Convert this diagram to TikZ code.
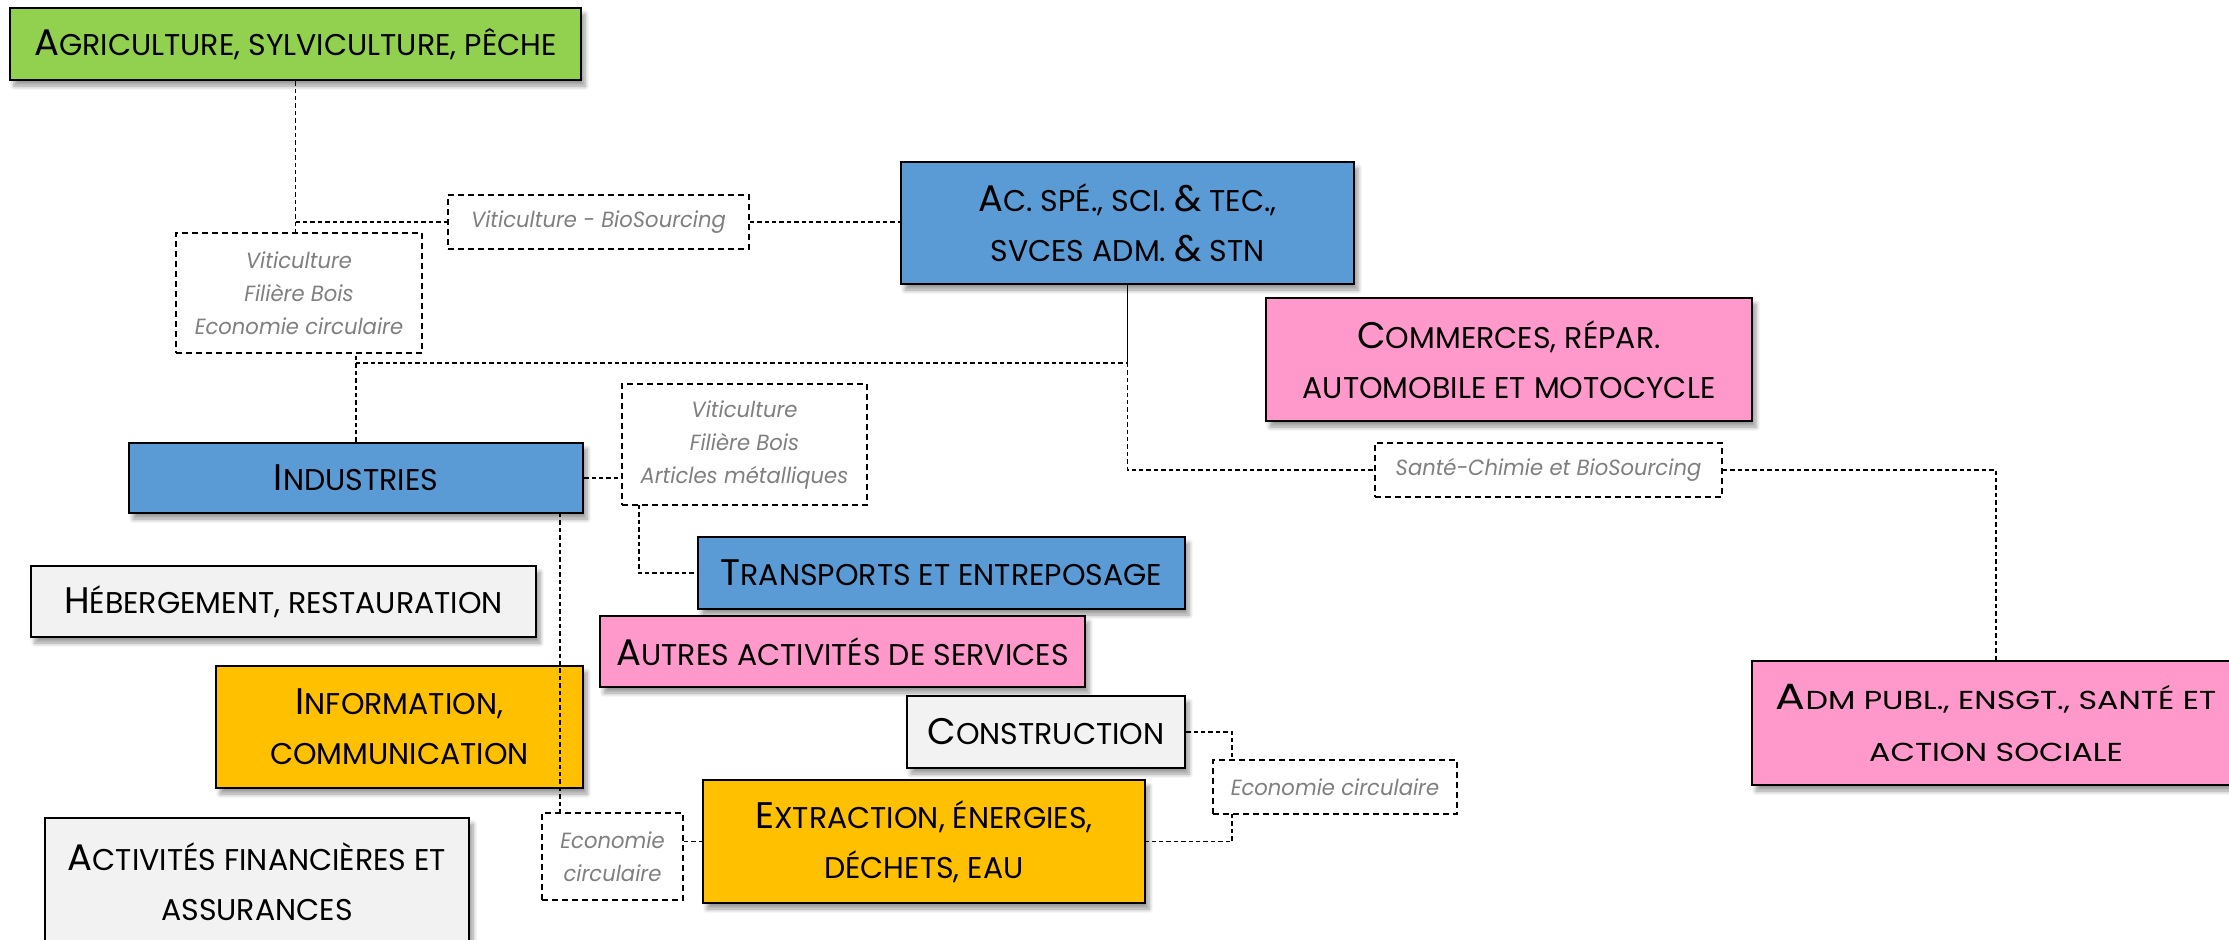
\documentclass[tikz,border=0pt]{standalone}
\usepackage{fontspec}
\setmainfont{Poppins}
\newfontfamily\cf{Poppins}
\newfontfamily\lf[FakeStretch=0.96]{Poppins}
\newfontfamily\wf[FakeStretch=1.22]{Poppins}
\usetikzlibrary{shadows.blur}
\newcommand\Bg[1]{{\fontsize{18.5}{25}\selectfont #1}}
\newcommand\Bw[1]{{\fontsize{18.2}{26}\selectfont #1}}
\definecolor{cgreen}{HTML}{92D050}
\definecolor{cblue}{HTML}{5B9BD5}
\definecolor{cpink}{HTML}{FF99CC}
\definecolor{corange}{HTML}{FFC000}
\definecolor{cgrey}{HTML}{F2F2F2}
\definecolor{lgray}{HTML}{7F7F7F}
\begin{document}
\begin{tikzpicture}[x=0.5pt,y=-0.5pt,
  cat/.style={draw=black, line width=1.2pt, inner sep=0pt, align=center,
    font=\cf\fontsize{15}{25}\selectfont, text=black,
    blur shadow={shadow xshift=2pt, shadow yshift=-3pt, shadow blur steps=6, shadow opacity=40}},
  lbl/.style={draw=black, dash pattern=on 3pt off 2pt, line width=0.8pt, fill=white,
    inner sep=0pt, align=center, text=lgray, font=\lf\itshape\fontsize{11}{16.5}\selectfont},
  con/.style={line width=0.6pt, dash pattern=on 2.2pt off 1.5pt}
]
\useasboundingbox (0,0) rectangle (2229,939);
% category boxes
\node[cat, fill=cgreen, minimum width=285.5pt, minimum height=36pt] (agri) at (295.5,44)
  {\Bg{A}GRICULTURE, SYLVICULTURE, PÊCHE};
\node[cat, fill=cblue, minimum width=226.5pt, minimum height=61pt] (acspe) at (1127.5,223)
  {\Bg{A}C. SPÉ., SCI. \Bg{\&} TEC.,\\SVCES ADM. \Bg{\&} STN};
\node[cat, fill=cpink, minimum width=243pt, minimum height=61.5pt] (comm) at (1509,359.5)
  {\Bg{C}OMMERCES, RÉPAR.\\AUTOMOBILE ET MOTOCYCLE};
\node[cat, fill=cblue, minimum width=227pt, minimum height=35pt] (ind) at (356,478)
  {\Bg{I}NDUSTRIES};
\node[cat, fill=cblue, minimum width=243.5pt, minimum height=36pt] (trans) at (941.5,573)
  {\Bg{T}RANSPORTS ET ENTREPOSAGE};
\node[cat, fill=cgrey, minimum width=252.5pt, minimum height=35.5pt] (heb) at (283.5,601.5)
  {\Bg{H}ÉBERGEMENT, RESTAURATION};
\node[cat, fill=cpink, minimum width=242.5pt, minimum height=35.5pt] (autres) at (842.5,651.5)
  {\Bg{A}UTRES ACTIVITÉS DE SERVICES};
\node[cat, fill=corange, minimum width=183.5pt, minimum height=61pt] (info) at (399.5,727)
  {\Bg{I}NFORMATION,\\COMMUNICATION};
\node[cat, fill=cgrey, minimum width=139pt, minimum height=36pt] (cons) at (1046,732)
  {\Bg{C}ONSTRUCTION};
\node[cat, fill=corange, minimum width=221pt, minimum height=61.5pt] (extr) at (924,841.5)
  {\Bg{E}XTRACTION, ÉNERGIES,\\DÉCHETS, EAU};
\node[cat, fill=cgrey, minimum width=212pt, minimum height=63.5pt] (fin) at (257,881.5)
  {\Bg{A}CTIVITÉS FINANCIÈRES ET\\ASSURANCES};
\node[cat, fill=cpink, minimum width=244pt, minimum height=62pt,
  font=\wf\fontsize{13}{26}\selectfont] (adm) at (1996,723)
  {\Bw{A}DM PUBL., ENSGT., SANTÉ ET\\ACTION SOCIALE};
% label boxes
\node[lbl, minimum width=150.5pt, minimum height=27pt] (vbio) at (598.5,222)
  {Viticulture - BioSourcing};
\node[lbl, minimum width=123pt, minimum height=60pt] (vfe) at (299,293)
  {Viticulture\\Filière Bois\\Economie circulaire};
\node[lbl, minimum width=122.5pt, minimum height=60.5pt] (vfa) at (744.5,444.5)
  {Viticulture\\Filière Bois\\Articles métalliques};
\node[lbl, minimum width=173.5pt, minimum height=27pt] (sante) at (1548.5,470)
  {Santé-Chimie et BioSourcing};
\node[lbl, minimum width=122pt, minimum height=27pt] (ecor) at (1335,787)
  {Economie circulaire};
\node[lbl, minimum width=70.5pt, minimum height=43.5pt] (ecol) at (612.5,856.5)
  {Economie\\circulaire};
% junction coordinates
\coordinate (j1) at (356,363);
\coordinate (j2) at (1127.5,363);
\coordinate (k1) at (639,505);
\coordinate (m1) at (560,513);
\coordinate (n1) at (1232,760);
\coordinate (n2) at (1232,814);
% connectors
\draw[con] (agri.south) -- (agri.south |- vfe.north);
\draw[con] (agri.south |- vbio.west) -- (vbio.west);
\draw[con] (vbio.east) -- (acspe.west |- vbio.east);
\draw[con] (ind.north) -- (ind.north |- vfe.south);
\draw[con] (j1) -- (j2);
\draw[line width=0.6pt] (acspe.south) -- (j2);
\draw[con] (j2) |- (sante.west);
\draw[con] (sante.east) -| (adm.north);
\draw[con] (ind.east) -- (ind.east -| vfa.west);
\draw[con] (k1) |- (trans.west);
\draw[con] (m1) -- (m1 |- ecol.north);
\draw[con] (ecol.east |- extr.west) -- (extr.west);
\draw[con] (cons.east) -| (n1);
\draw[con] (n2) |- (extr.east);
\end{tikzpicture}
\end{document}
